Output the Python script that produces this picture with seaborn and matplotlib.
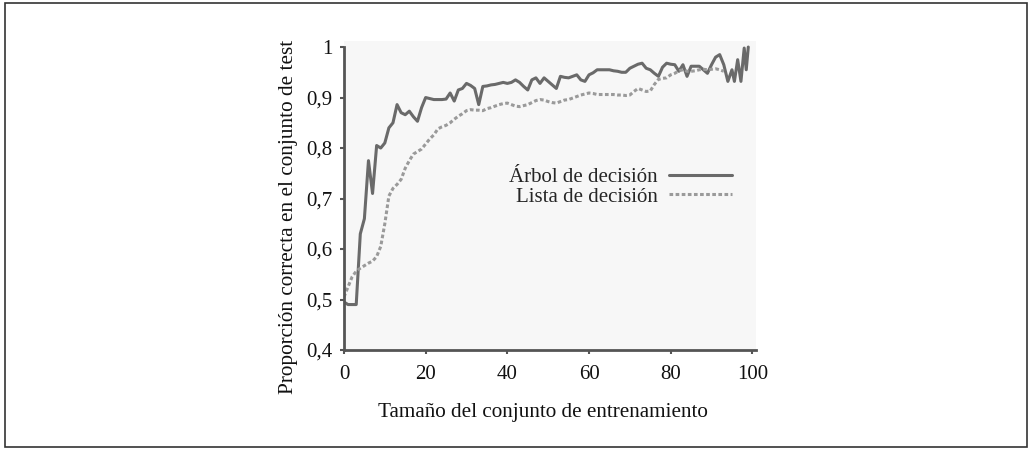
import numpy as np
import pandas as pd
import matplotlib
matplotlib.use("Agg")
import matplotlib.pyplot as plt
from matplotlib.patches import Rectangle
from matplotlib.ticker import FuncFormatter
import seaborn as sns

# Learning curves: proportion correct on the test set vs. training set size
tree_label = "Árbol de decisión"
list_label = "Lista de decisión"

tree_x = list(range(0, 96)) + [95.6, 96.4, 97.2, 98, 98.5, 99]
tree_y = [0.495, 0.49, 0.49, 0.49, 0.63, 0.66, 0.775, 0.71, 0.805, 0.80,
          0.81, 0.84, 0.85, 0.886, 0.87, 0.866, 0.873, 0.862, 0.853, 0.88,
          0.90, 0.898, 0.896, 0.896, 0.896, 0.897, 0.909, 0.893, 0.915, 0.918,
          0.928, 0.924, 0.918, 0.886, 0.922, 0.923, 0.925, 0.926, 0.928, 0.93,
          0.928, 0.93, 0.935, 0.93, 0.922, 0.915, 0.935, 0.939, 0.928, 0.939,
          0.932, 0.925, 0.918, 0.942, 0.94, 0.939, 0.942, 0.945, 0.935, 0.932,
          0.945, 0.949, 0.955, 0.955, 0.955, 0.955, 0.953, 0.952, 0.95, 0.95,
          0.958, 0.962, 0.966, 0.968, 0.958, 0.955, 0.948, 0.942, 0.96, 0.968,
          0.966, 0.965, 0.952, 0.965, 0.942, 0.962, 0.962, 0.962, 0.955, 0.948,
          0.965, 0.98, 0.985, 0.965, 0.932, 0.955,
          0.932, 0.975, 0.932, 0.998, 0.955, 1.0]

list_x = list(range(0, 94))
list_y = [0.505, 0.525, 0.545, 0.556, 0.562, 0.567, 0.572, 0.576, 0.585, 0.605,
          0.65, 0.705, 0.72, 0.728, 0.738, 0.76, 0.775, 0.788, 0.793, 0.798,
          0.808, 0.818, 0.826, 0.838, 0.842, 0.845, 0.85, 0.857, 0.863, 0.868,
          0.874, 0.876, 0.875, 0.875, 0.874, 0.878, 0.88, 0.883, 0.886, 0.888,
          0.889, 0.886, 0.883, 0.882, 0.884, 0.886, 0.89, 0.894, 0.896, 0.895,
          0.892, 0.89, 0.889, 0.892, 0.895, 0.896, 0.899, 0.902, 0.905, 0.907,
          0.909, 0.908, 0.906, 0.906, 0.906, 0.906, 0.906, 0.905, 0.905, 0.904,
          0.905, 0.912, 0.918, 0.915, 0.912, 0.913, 0.926, 0.936, 0.938, 0.939,
          0.945, 0.948, 0.953, 0.955, 0.952, 0.952, 0.953, 0.955, 0.956, 0.955,
          0.956, 0.957, 0.955, 0.952]

x_ticks = [0, 20, 40, 60, 80, 100]
y_ticks = [0.4, 0.5, 0.6, 0.7, 0.8, 0.9, 1.0]

df = pd.concat([
    pd.DataFrame({"n": tree_x, "acc": tree_y, "method": tree_label}),
    pd.DataFrame({"n": list_x, "acc": list_y, "method": list_label}),
], ignore_index=True)

sns.set_theme(style="white")
plt.rcParams["font.family"] = ["Liberation Serif", "DejaVu Serif"]
plt.rcParams["font.size"] = 15

fig = plt.figure(figsize=(10.32, 4.49), dpi=100)
ax = fig.add_axes([0.3333, 0.2205, 0.3997, 0.6882])
ax.set_facecolor("#f7f7f7")

sns.lineplot(data=df, x="n", y="acc", hue="method", style="method",
             palette={tree_label: "#6a6a6a", list_label: "#9a9a9a"},
             dashes={tree_label: "", list_label: (1.2, 0.8)},
             linewidth=2.2, ax=ax, sort=False)

ax.set_xlim(0, 101)
ax.set_ylim(0.4, 1.012)
ax.set_xticks(x_ticks)
ax.set_yticks(y_ticks)
ax.yaxis.set_major_formatter(FuncFormatter(lambda v, p: f"{v:g}".replace(".", ",")))
ax.tick_params(axis="both", direction="out", length=3, width=1.5, color="#555555",
               labelsize=15, labelcolor="#111111", bottom=True, left=True)
ax.tick_params(axis="x", pad=8)
ax.tick_params(axis="y", pad=5.5)

for side in ["top", "right"]:
    ax.spines[side].set_visible(False)
for side in ["left", "bottom"]:
    ax.spines[side].set_color("#555555")
    ax.spines[side].set_linewidth(2.0)
ax.spines["left"].set_bounds(0.4, 1.0)

ax.set_xlabel("Tamaño del conjunto de entrenamiento", fontsize=15.2, color="#111111")
ax.set_ylabel("Proporción correcta en el conjunto de test", fontsize=15.3, color="#111111")
ax.xaxis.set_label_coords(0.482, -0.172)
ax.yaxis.set_label_coords(-0.111, 0.43)

handles, labels = ax.get_legend_handles_labels()
ax.legend(handles, labels, markerfirst=False, frameon=False, fontsize=15,
          loc="upper right", bbox_to_anchor=(0.96, 0.618), handlelength=3.0,
          handletextpad=0.55, labelspacing=0.0, borderaxespad=0)

fig.patches.append(Rectangle((0.005, 0.005), 0.99, 0.988, transform=fig.transFigure,
                             fill=False, edgecolor="#333333", linewidth=1.2))

fig.savefig("out.png", dpi=100, facecolor="white")
